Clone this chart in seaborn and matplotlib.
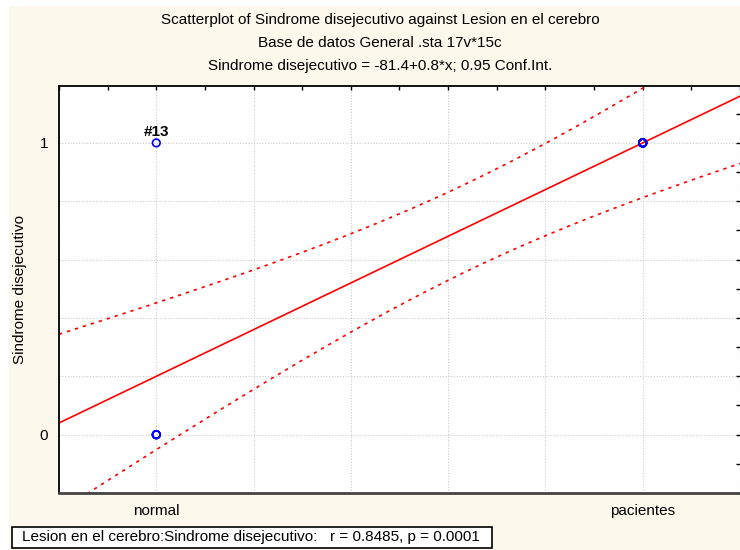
import numpy as np
import matplotlib
matplotlib.use("Agg")
import matplotlib.pyplot as plt
from matplotlib.patches import Rectangle
import seaborn as sns

# Lesion en el cerebro: 102 = normal, 103 = pacientes
categories = ["normal", "pacientes"]
category_codes = [102, 103]
lesion = [102, 102, 102, 102, 102, 103, 103, 103, 103, 103, 103, 103, 103, 103]
sindrome = [1, 0, 0, 0, 0, 1, 1, 1, 1, 1, 1, 1, 1, 1]
case_labels = ["#13", "", "", "", "", "", "", "", "", "", "", "", "", ""]
y_labels = {0: "0", 1: "1"}
T_975_DF12 = 2.179  # t critical value, 0.95 conf.

cream = "#fdf8ec"
FS = 11

sns.set_style("white")
plt.rcParams["font.family"] = ["Liberation Sans", "DejaVu Sans"]
plt.rcParams["text.color"] = "black"

fig = plt.figure(figsize=(7.4, 5.5), dpi=100, facecolor="white")
fig.patches.append(Rectangle((9 / 740, 0), 1, 1 - 6 / 550, transform=fig.transFigure,
                             facecolor=cream, edgecolor="none", zorder=-10))
ax = fig.add_axes([59 / 740, 1 - 493 / 550, 1 - 59 / 740, (493 - 86) / 550])
ax.set_facecolor("white")

xlim = (101.8, 103.2)
ylim = (-0.2, 1.195)
ax.set_xlim(xlim)
ax.set_ylim(ylim)

x = np.array(lesion, dtype=float)
y = np.array(sindrome, dtype=float)

# regression line
sns.regplot(x=x, y=y, ax=ax, ci=None, truncate=False, scatter=False,
            line_kws=dict(color="red", lw=1.2))

# analytic 0.95 confidence band
n = len(x)
slope, intercept = np.polyfit(x, y, 1)
resid = y - (intercept + slope * x)
s = np.sqrt(np.sum(resid ** 2) / (n - 2))
sxx = np.sum((x - x.mean()) ** 2)
xs = np.linspace(xlim[0], xlim[1], 200)
fit = intercept + slope * xs
hw = T_975_DF12 * s * np.sqrt(1 / n + (xs - x.mean()) ** 2 / sxx)
ax.plot(xs, fit + hw, color="red", lw=1.2, ls=(0, (2, 3)))
ax.plot(xs, fit - hw, color="red", lw=1.2, ls=(0, (2, 3)))

sns.scatterplot(x=x, y=y, ax=ax, marker="o", s=30, facecolor="none",
                edgecolor="blue", linewidth=1.2, zorder=5)
for xi, yi, lab in zip(x, y, case_labels):
    if lab:
        ax.annotate(lab, (xi, yi), xytext=(0, 3), textcoords="offset points",
                    ha="center", va="bottom", fontsize=FS, fontweight="bold")

# ticks and grid
xmaj = np.round(np.arange(101.8, 103.21, 0.2), 1)
ax.set_xticks(xmaj)
ax.set_xticklabels([categories[category_codes.index(v)] if v in category_codes else ""
                    for v in xmaj], fontsize=FS, color="black")
ax.set_xticks(np.round(np.arange(101.8, 103.21, 0.1), 1), minor=True)
ymaj = np.round(np.arange(-0.2, 1.21, 0.2), 1)
ax.set_yticks(ymaj)
ax.set_yticklabels([y_labels.get(v, "") for v in ymaj], fontsize=FS, color="black")
ax.set_yticks(np.round(np.arange(-0.2, 1.21, 0.1), 1), minor=True)
ax.set_ylim(ylim)
ax.tick_params(which="both", direction="in", top=True, right=True, length=3,
               width=1, color="black", pad=8)
ax.tick_params(axis="x", pad=8)
ax.grid(True, which="major", ls=(0, (1, 1.5)), color="#cccccc", lw=0.8)

for side in ["top", "left"]:
    ax.spines[side].set_color("black")
    ax.spines[side].set_linewidth(1.3)
ax.spines["bottom"].set_color("#444444")
ax.spines["bottom"].set_linewidth(2)
ax.spines["right"].set_visible(False)

ax.set_xlabel("")
ax.set_ylabel("Sindrome disejecutivo", fontsize=FS, color="black")
ax.yaxis.set_label_coords(-(59 - 27) / 681, 0.5)

fig.text(380 / 740, 1 - 20 / 550, "Scatterplot of Sindrome disejecutivo against Lesion en el cerebro",
         ha="center", va="center", fontsize=FS)
fig.text(380 / 740, 1 - 43 / 550, "Base de datos General .sta 17v*15c",
         ha="center", va="center", fontsize=FS)
fig.text(380 / 740, 1 - 66 / 550, "Sindrome disejecutivo = -81.4+0.8*x; 0.95 Conf.Int.",
         ha="center", va="center", fontsize=FS)

fig.patches.append(Rectangle((12 / 740, 1 - 548 / 550), 480 / 740, 21 / 550,
                             transform=fig.transFigure, facecolor="white",
                             edgecolor="black", lw=1.2))
fig.text(22 / 740, 1 - 537.5 / 550,
         "Lesion en el cerebro:Sindrome disejecutivo:   r = 0.8485, p = 0.0001",
         ha="left", va="center", fontsize=FS)

fig.savefig("out.png", dpi=100, facecolor=fig.get_facecolor())
